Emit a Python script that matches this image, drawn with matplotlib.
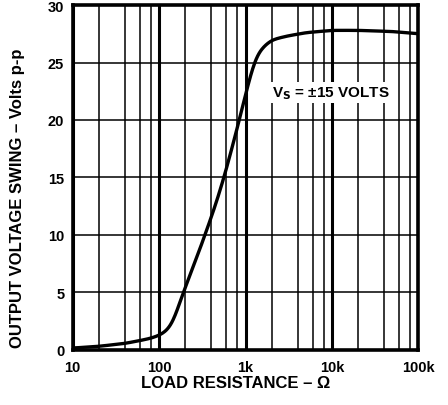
import matplotlib
matplotlib.use("Agg")
import matplotlib.pyplot as plt
import numpy as np
from matplotlib.ticker import FixedLocator, NullFormatter

plt.rcParams['font.family'] = ['Liberation Sans', 'DejaVu Sans']
plt.rcParams['font.weight'] = 'bold'

# curve (load resistance in ohms, output swing in V p-p)
load_r = [10, 20, 40, 60, 80, 100, 120, 140, 155, 170, 191, 260, 340, 450,
          564, 700, 848, 1030, 1254, 1400, 1540, 1800, 2080, 3000, 5000,
          10000, 20000, 50000, 100000]
swing = [0.15, 0.3, 0.55, 0.8, 1.0, 1.25, 1.6, 2.2, 3.0, 3.9, 5.0, 7.6, 10.0,
         12.6, 15.0, 17.6, 20.0, 22.6, 25.0, 25.8, 26.2, 26.7, 27.0, 27.3,
         27.6, 27.8, 27.8, 27.7, 27.5]

x_ticks = [10, 100, 1000, 10000, 100000]
x_labels = ['10', '100', '1k', '10k', '100k']
y_ticks = [0, 5, 10, 15, 20, 25, 30]

fig = plt.figure(figsize=(4.48, 4.06), dpi=100)
ax = fig.add_axes([0.162, 0.136, 0.772, 0.849])

# smoothing in log space (gaussian kernel)
lx = np.log10(load_r)
xs = np.linspace(lx[0], lx[-1], 500)
ys = np.interp(xs, lx, swing)
k = 12
g = np.exp(-0.5 * (np.arange(-k, k + 1) / (k / 2.2)) ** 2)
g /= g.sum()
ys_s = np.convolve(np.pad(ys, k, mode='edge'), g, mode='same')[k:-k]
ax.plot(10 ** xs, ys_s, color='black', lw=2.4, solid_capstyle='round', zorder=3)

ax.set_xscale('log')
ax.set_xlim(10, 100000)
ax.set_ylim(0, 30)
ax.set_xticks(x_ticks)
ax.set_xticklabels(x_labels)
minors = [d * m for d in [10, 100, 1000, 10000] for m in (2, 4, 6, 8)]
ax.xaxis.set_minor_locator(FixedLocator(minors))
ax.xaxis.set_minor_formatter(NullFormatter())
ax.set_yticks(y_ticks)

ax.grid(True, which='major', axis='x', color='black', lw=2.2)
ax.grid(True, which='minor', axis='x', color='black', lw=1.1)
ax.grid(True, which='major', axis='y', color='black', lw=1.1)
ax.tick_params(axis='x', which='both', length=0, labelsize=10.5, pad=7)
ax.tick_params(axis='y', which='both', length=0, labelsize=10.5, pad=6)
for s in ax.spines.values():
    s.set_linewidth(2.6)

ax.set_xlabel('LOAD RESISTANCE – Ω', fontsize=12, fontweight='bold', va='center')
ax.xaxis.set_label_coords(0.47, -0.094)
ax.set_ylabel('OUTPUT VOLTAGE SWING – Volts p-p', fontsize=12, fontweight='bold', va='center')
ax.yaxis.set_label_coords(-0.158, 0.443)

ax.text(2000, 22.4, r'V$_\mathbf{S}$ = ±15 VOLTS', fontsize=11, fontweight='bold',
        va='center', ha='left', zorder=4,
        bbox=dict(facecolor='white', edgecolor='none', pad=1.5))

fig.savefig('out.png', dpi=100)
